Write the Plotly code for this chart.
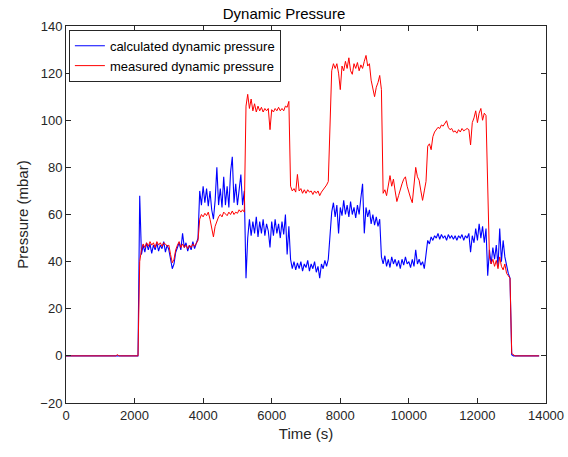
import plotly.graph_objects as go

# sample times (s), one sample every 50 s from 0 to 13800
time_s = list(range(0, 13850, 50))

measured = [
    # 0 - 2100
    0, 0, 0, 0, 0, 0, 0, 0, 0, 0, 0, 0, 0, 0, 0, 0, 0, 0, 0, 0,
    0, 0, 0, 0, 0, 0, 0, 0, 0, 0, 0.5, 0, 0, 0, 0, 0, 0, 0, 0, 0,
    0, 0, 0,
    # 2150 - 3000
    40, 45, 47.5, 46, 48, 46.5, 48.5, 47, 48, 46, 48.5, 47, 48, 46.5, 48, 47.5, 46.5, 47,
    # 3050 - 3200 dip
    43, 39.5, 41, 45,
    # 3250 - 3850
    47, 48.5, 46, 47.5, 46, 47, 45.5, 47, 46, 47.5, 46.5, 48, 49,
    # 3900 - 5200
    58, 60, 59, 60.5, 59.5, 61, 58, 54, 50.5, 55, 57, 59, 60, 59, 61, 60, 59.5, 61, 60,
    61.5, 60, 61, 60.5, 62, 61, 62, 61,
    # 5250 - 6500
    106, 111, 105, 109, 104, 107, 103.5, 106, 104, 105.5, 103.5, 105, 104, 105, 96, 104.5,
    103.5, 105, 104, 105.5, 104, 105, 104, 106, 105.5, 108,
    # 6550 - 7650
    72, 70, 71, 69.5, 77, 70, 71, 69, 70.5, 69, 70.5, 69.5, 70, 68.5, 70, 69, 70, 68, 69.5,
    70.5, 71, 72.5, 74,
    # 7700 - 9200
    98, 121, 124, 122, 124, 120, 113, 123, 121, 125, 122, 126.5, 121, 119.5, 124, 122, 124.5,
    121, 123.5, 122, 125, 127.5, 123, 124, 117, 113, 110, 114, 116, 119, 113,
    # 9250 - 10500
    69, 70.5, 68, 73, 76.5, 72, 75, 70, 65.5, 68, 71, 73, 75, 76, 72, 69, 67, 65, 72, 80,
    76, 74.5, 70, 66, 70, 74,
    # 10550 - 12250
    89, 90, 87.5, 93, 95, 96, 97, 96.5, 98, 97.5, 99, 99.8, 97, 96, 96.5, 95, 95.5, 94.5, 96,
    95, 96.5, 95.5, 96, 96.5, 96, 89.5, 99, 101, 104, 99, 103, 105, 100, 103, 102,
    # 12300 - 12950
    65, 42, 39, 41, 38, 40.5, 37, 42, 38, 36.5, 39, 35, 34, 33,
    # 13000 - 13800
    1, 0.5, 0, 0, 0, 0, 0, 0, 0, 0, 0, 0, 0, 0, 0, 0, 0,
]

calculated = [
    # 0 - 2100
    0, 0, 0, 0, 0, 0, 0, 0, 0, 0, 0, 0, 0, 0, 0, 0, 0, 0, 0, 0,
    0, 0, 0, 0, 0, 0, 0, 0, 0, 0, 0, 0, 0, 0, 0, 0, 0, 0, 0, 0,
    0, 0, 0,
    # 2150 - 3000
    68, 43, 47, 44, 48, 45, 47.5, 43.5, 47, 45, 48, 44.5, 47, 45.5, 48.5, 44, 47, 45,
    # 3050 - 3200 dip
    41, 37, 39, 44,
    # 3250 - 3850
    46, 48, 45, 52, 46, 48, 44.5, 47, 45, 48.5, 45.5, 47.5, 50,
    # 3900 - 5200
    70, 64, 72, 65, 71, 63.5, 70, 62, 58, 66, 80, 64, 71, 63, 76, 64, 72, 63, 78, 84.5,
    65, 73, 64, 72, 77, 64, 70,
    # 5250 - 6500
    33, 50, 58, 51, 57, 52, 59, 50.5, 57, 52, 58, 51, 56, 53, 46, 57, 51, 58, 52, 56, 50,
    57, 51.5, 60, 43, 55,
    # 6550 - 7650
    41, 37, 40, 36.5, 39.5, 37, 40, 36, 39, 37.5, 40.5, 36, 39, 37, 40, 35.5, 38, 33, 39,
    37, 40.5, 38, 41,
    # 7700 - 9200
    52, 61, 65, 59, 64, 52, 63, 59.5, 66, 60, 64, 59, 65.5, 60, 63, 58.5, 64, 60, 67, 73,
    52, 63, 59, 62, 56, 60, 55.5, 59, 55, 58, 42,
    # 9250 - 10500
    39, 42.5, 38, 41, 37.5, 42, 39, 41, 38, 40.5, 37, 41, 38.5, 42, 39, 40, 37.5, 41, 38,
    45, 39, 41, 38.5, 40, 37, 43,
    # 10550 - 12250
    49, 47.5, 50.5, 49, 51, 50, 52, 49.5, 51.5, 50, 51, 49, 51.5, 50, 51, 49.5, 51, 49, 51,
    50, 51.5, 49, 51, 50, 52, 44, 51, 48, 54, 49, 56, 50, 55, 48, 54,
    # 12300 - 12950
    34, 45, 39, 46, 41, 47, 38, 54, 40, 49, 42, 38, 35, 33,
    # 13000 - 13800
    0.5, 0, 0, 0, 0, 0, 0, 0, 0, 0, 0, 0, 0, 0, 0, 0, 0,
]

x_ticks = [0, 2000, 4000, 6000, 8000, 10000, 12000, 14000]
x_tick_labels = ["0", "2000", "4000", "6000", "8000", "10000", "12000", "14000"]
y_ticks = [-20, 0, 20, 40, 60, 80, 100, 120, 140]

series_names = ["calculated dynamic pressure", "measured dynamic pressure"]

FONT = "Liberation Sans, Arial"

fig = go.Figure()
fig.add_trace(go.Scatter(x=time_s, y=calculated, mode="lines", name=series_names[0],
                         line=dict(color="#0000ff", width=1.1)))
fig.add_trace(go.Scatter(x=time_s, y=measured, mode="lines", name=series_names[1],
                         line=dict(color="#ff0000", width=1)))

axis_common = dict(
    showgrid=False, zeroline=False, showline=True, linecolor="#262626", linewidth=1,
    mirror="ticks", ticks="inside", ticklen=5, tickcolor="#262626", automargin=False,
    tickfont=dict(family=FONT, size=13, color="#262626"),
)

fig.update_layout(
    width=568, height=457,
    margin=dict(l=66, r=22, t=26, b=54),
    paper_bgcolor="white", plot_bgcolor="white",
    title=dict(text="Dynamic Pressure", x=0.5, xanchor="center", y=0.97, yanchor="middle",
               font=dict(family=FONT, size=15, color="#000000")),
    xaxis=dict(range=[0, 14000], tickvals=x_ticks, ticktext=x_tick_labels,
               title=dict(text="Time (s)", standoff=6,
                          font=dict(family=FONT, size=15, color="#262626")),
               **axis_common),
    yaxis=dict(range=[-20, 140], tickvals=y_ticks,
               title=dict(text="Pressure (mbar)", standoff=8,
                          font=dict(family=FONT, size=15, color="#262626")),
               **axis_common),
    legend=dict(x=0.006, y=0.99, xanchor="left", yanchor="top",
                bordercolor="#262626", borderwidth=1, bgcolor="white",
                font=dict(family=FONT, size=13, color="#000000"),
                tracegroupgap=0, itemwidth=30),
    showlegend=True,
)

fig.write_html("out.html", config={"displayModeBar": False},
               post_script="document.body.style.margin='0';document.body.style.overflow='hidden';")
